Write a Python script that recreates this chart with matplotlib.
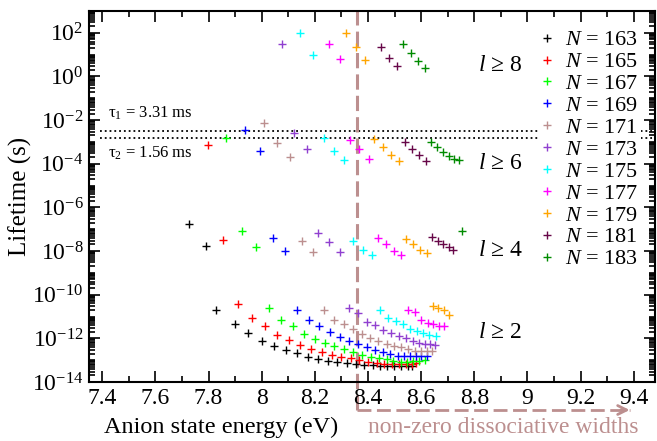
"""
Lifetime of anion states vs energy (xmgrace-like look)
"""
import numpy as np
import matplotlib
matplotlib.use('Agg')
import matplotlib.pyplot as plt
from matplotlib.ticker import FixedLocator, LogLocator, MultipleLocator, FuncFormatter, NullFormatter

# 能量 (eV) 与 log10(寿命/s)，每个 N 一组
E163 = [7.728, 7.789, 7.829, 7.900, 7.950, 8.000, 8.046, 8.091, 8.133, 8.173, 8.211, 8.250,
        8.285, 8.320, 8.355, 8.386, 8.418, 8.445, 8.473, 8.499, 8.524, 8.549, 8.564]
T163 = [-6.78, -7.77, -10.68, -11.33, -11.77, -12.12, -12.35, -12.55, -12.69, -12.84, -12.93, -13.02,
        -13.09, -13.12, -13.18, -13.20, -13.23, -13.25, -13.26, -13.27, -13.27, -13.26, -13.25]
E165 = [7.798, 7.856, 7.910, 7.964, 8.013, 8.058, 8.104, 8.145, 8.187, 8.225, 8.263, 8.297,
        8.335, 8.367, 8.399, 8.433, 8.461, 8.489, 8.517, 8.542, 8.567, 8.580]
T165 = [-3.13, -7.50, -10.41, -11.09, -11.43, -11.84, -12.09, -12.30, -12.48, -12.62, -12.76, -12.84,
        -12.92, -12.99, -13.07, -13.12, -13.16, -13.18, -13.18, -13.18, -13.17, -13.12]
E167 = [7.867, 7.924, 7.977, 8.027, 8.074, 8.119, 8.159, 8.201, 8.239, 8.273, 8.310, 8.345,
        8.379, 8.411, 8.441, 8.470, 8.495, 8.523, 8.548, 8.570, 8.593, 8.613]
T167 = [-2.83, -7.09, -7.83, -10.60, -11.17, -11.45, -11.82, -12.05, -12.23, -12.34, -12.51, -12.64,
        -12.77, -12.84, -12.92, -12.96, -13.03, -13.07, -13.07, -13.04, -13.04, -12.99]
E169 = [7.938, 7.993, 8.042, 8.089, 8.134, 8.177, 8.217, 8.255, 8.294, 8.329, 8.362, 8.395,
        8.425, 8.455, 8.483, 8.512, 8.535, 8.558, 8.580, 8.601, 8.622]
T169 = [-2.44, -3.41, -7.40, -7.98, -10.68, -11.17, -11.43, -11.71, -11.93, -12.12, -12.25, -12.41,
        -12.54, -12.64, -12.71, -12.79, -12.83, -12.83, -12.83, -12.82, -12.80]
E171 = [8.008, 8.057, 8.107, 8.151, 8.193, 8.233, 8.273, 8.310, 8.345, 8.376, 8.408, 8.439,
        8.470, 8.499, 8.525, 8.552, 8.577, 8.598, 8.621, 8.639]
T171 = [-2.15, -3.07, -3.71, -7.55, -8.05, -10.68, -11.15, -11.35, -11.55, -11.81, -11.97, -12.13,
        -12.25, -12.35, -12.41, -12.49, -12.56, -12.57, -12.58, -12.58]
E173 = [8.076, 8.123, 8.169, 8.212, 8.252, 8.294, 8.329, 8.363, 8.395, 8.427, 8.458, 8.487,
        8.517, 8.544, 8.570, 8.593, 8.613, 8.633, 8.652]
T173 = [1.51, -2.60, -3.34, -7.19, -7.59, -8.03, -10.62, -10.83, -11.23, -11.39, -11.60, -11.76,
        -11.90, -12.00, -12.10, -12.22, -12.25, -12.27, -12.29]
E175 = [8.144, 8.191, 8.233, 8.273, 8.311, 8.345, 8.380, 8.414, 8.446, 8.474, 8.505, 8.533,
        8.559, 8.584, 8.607, 8.631, 8.654]
T175 = [1.98, 0.99, -2.83, -3.43, -3.84, -7.54, -7.93, -8.18, -10.69, -11.07, -11.22, -11.33,
        -11.55, -11.68, -11.76, -11.84, -11.88]
E177 = [8.253, 8.295, 8.331, 8.367, 8.403, 8.436, 8.467, 8.496, 8.523, 8.552, 8.577, 8.599,
        8.624, 8.645, 8.666, 8.686]
T177 = [1.51, 0.78, -2.93, -3.34, -3.76, -7.42, -7.69, -8.00, -8.20, -10.69, -10.79, -11.18,
        -11.30, -11.35, -11.42, -11.43]
E179 = [8.317, 8.356, 8.390, 8.423, 8.455, 8.486, 8.516, 8.544, 8.571, 8.597, 8.621, 8.643,
        8.664, 8.685, 8.703]
T179 = [1.99, 1.33, 0.75, -2.87, -3.24, -3.61, -3.89, -7.47, -7.68, -7.96, -8.11, -10.51,
        -10.63, -10.70, -10.94]
E181 = [8.448, 8.480, 8.509, 8.538, 8.565, 8.592, 8.617, 8.642, 8.662, 8.683, 8.703, 8.721]
T181 = [1.35, 0.85, 0.47, -3.02, -3.32, -3.62, -3.85, -7.37, -7.52, -7.68, -7.83, -7.93]
E183 = [8.533, 8.561, 8.589, 8.614, 8.636, 8.661, 8.683, 8.705, 8.723, 8.741, 8.752]
T183 = [1.48, 1.08, 0.71, 0.40, -2.99, -3.24, -3.44, -3.66, -3.78, -3.83, -7.07]

N_list = [163, 165, 167, 169, 171, 173, 175, 177, 179, 181, 183]
colors = ['#000000', '#ff0000', '#00ff00', '#0000ff', '#bc8f8f', '#9040d0',
          '#00ffff', '#ff00ff', '#ffa500', '#670748', '#008b00']
series = [(E163, T163), (E165, T165), (E167, T167), (E169, T169), (E171, T171), (E173, T173),
          (E175, T175), (E177, T177), (E179, T179), (E181, T181), (E183, T183)]

tau1 = 3.31e-3
tau2 = 1.56e-3
E_diss = 8.357
l_labels = [r'$l$ ≥ 8', r'$l$ ≥ 6', r'$l$ ≥ 4', r'$l$ ≥ 2']
l_pos = [0.49, -3.99, -7.97, -11.71]

plt.rcParams['font.family'] = ['Liberation Serif', 'DejaVu Serif']
plt.rcParams['mathtext.fontset'] = 'custom'
plt.rcParams['mathtext.rm'] = 'Liberation Serif'
plt.rcParams['mathtext.it'] = 'Liberation Serif:italic'
plt.rcParams['mathtext.bf'] = 'Liberation Serif:bold'
plt.rcParams['axes.unicode_minus'] = False

rb = '#bc8f8f'
fig = plt.figure(figsize=(6.57, 4.41), dpi=100)
ax = fig.add_axes([0.1355, 0.1338, 0.8615, 0.8412])

for N, (E, T), c in zip(N_list, series, colors):
    ax.plot(E, 10.0 ** np.array(T), ls='none', marker='+', ms=6, mew=1.0, color=c,
            label=r'$N$ = %d' % N)

# 寿命参考线
for tau in (tau1, tau2):
    ax.plot([7.39, 9.48], [tau, tau], ls=':', color='k', lw=1.3, zorder=1)
ax.text(7.42, 10 ** -1.7, r'τ$_1$ = 3.31 ms', fontsize=12, ha='left', va='center')
ax.text(7.42, 10 ** -3.53, r'τ$_2$ = 1.56 ms', fontsize=12, ha='left', va='center')

for lab, p in zip(l_labels, l_pos):
    ax.text(8.813, 10 ** p, lab, fontsize=17, ha='left', va='center')

# 解离宽度区域
tr = ax.get_xaxis_transform()
y_arr = -0.0755
ax.plot([E_diss, E_diss], [y_arr, 1.0], transform=tr, color=rb, lw=2.2, ls=(0, (5, 2)),
        clip_on=False, zorder=1)
ax.plot([E_diss, 9.385], [y_arr, y_arr], transform=tr, color=rb, lw=2.0, ls=(0, (5, 2)),
        clip_on=False)
ax.annotate('', xy=(9.395, y_arr), xytext=(9.34, y_arr), xycoords=tr, textcoords=tr,
            arrowprops=dict(arrowstyle='->', color=rb, lw=2.0, mutation_scale=16),
            annotation_clip=False)
ax.text(8.908, -0.124, 'non-zero dissociative widths', transform=tr, ha='center', va='center',
        color=rb, fontsize=17)

ax.set_xlim(7.35, 9.48)
ax.set_yscale('log')
ax.set_ylim(1e-14, 1e3)
ax.xaxis.set_major_locator(MultipleLocator(0.2))
ax.xaxis.set_minor_locator(MultipleLocator(0.1))
ax.xaxis.set_major_formatter(FuncFormatter(lambda v, p: '%g' % round(v, 1)))
ax.yaxis.set_major_locator(FixedLocator(10.0 ** np.arange(-14, 3, 2)))
ax.yaxis.set_major_formatter(FuncFormatter(lambda v, p: r'10$^{%d}$' % round(np.log10(v))))
ax.yaxis.set_minor_locator(LogLocator(base=10, subs=np.arange(1, 10), numticks=100))
ax.yaxis.set_minor_formatter(NullFormatter())
ax.tick_params(which='both', direction='in', top=True, right=True, width=1.2, labelsize=17)
ax.tick_params(which='major', length=8, pad=4)
ax.tick_params(which='minor', length=4)
for s in ax.spines.values():
    s.set_linewidth(1.5)

ax.set_xlabel('Anion state energy (eV)', fontsize=17.5)
ax.xaxis.set_label_coords(0.233, -0.093)
ax.set_ylabel('Lifetime (s)', fontsize=18, labelpad=0)

ax.legend(loc='upper right', bbox_to_anchor=(0.975, 0.955), frameon=True, fancybox=False,
          edgecolor='none', facecolor='white', framealpha=1, fontsize=16, handlelength=0.6,
          handletextpad=0.5, labelspacing=0.06, borderpad=0.1, borderaxespad=0, markerscale=0.9)

fig.savefig('out.png', dpi=100)
